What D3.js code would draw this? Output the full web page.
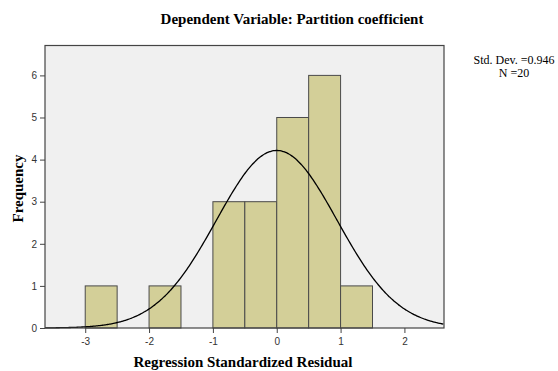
<!DOCTYPE html>
<html><head><meta charset="utf-8">
<script src="https://cdn.jsdelivr.net/npm/d3@7"></script>
<style>body{margin:0;background:#fff}svg{display:block}</style>
</head><body>
<script>
const binStarts = [-3, -2, -1, -0.5, 0, 0.5, 1];
const binCounts = [1, 1, 3, 3, 5, 6, 1];
const binWidth = 0.5;
const xTicks = [-3, -2, -1, 0, 1, 2];
const yTicks = [0, 1, 2, 3, 4, 5, 6];
const stdDev = 0.946;
const meanVal = 0;
const nCount = 20;
const title = "Dependent Variable: Partition coefficient";
const xLabel = "Regression Standardized Residual";
const yLabel = "Frequency";

const W = 558, H = 371;
const L = 45, R = 444, T = 45.5, B = 328;
const svg = d3.select("body").append("svg").attr("width", W).attr("height", H);

const x = d3.scaleLinear().domain([-3.63, 2.62]).range([L, R]);
const y = d3.scaleLinear().domain([0, 6.71]).range([B, T]);

svg.append("rect").attr("x", L).attr("y", T).attr("width", R - L).attr("height", B - T)
  .attr("fill", "#f0f0f0");

svg.selectAll("rect.bar").data(binStarts).enter().append("rect").attr("class", "bar")
  .attr("x", d => x(d)).attr("width", d => x(d + binWidth) - x(d))
  .attr("y", (d, i) => y(binCounts[i])).attr("height", (d, i) => y(0) - y(binCounts[i]))
  .attr("fill", "#d3cf98").attr("stroke", "#4a4a4a").attr("stroke-width", 1);

// fitted normal curve from the stated mean, std dev and N
const curveX = d3.range(x.domain()[0], x.domain()[1] + 0.001, 0.02);
const dens = v => nCount * binWidth / (stdDev * Math.sqrt(2 * Math.PI)) * Math.exp(-0.5 * ((v - meanVal) / stdDev) ** 2);
svg.append("path").datum(curveX)
  .attr("d", d3.line().x(d => x(d)).y(d => y(dens(d))).curve(d3.curveBasis))
  .attr("fill", "none").attr("stroke", "#000").attr("stroke-width", 1.3);

svg.append("rect").attr("x", L).attr("y", T).attr("width", R - L).attr("height", B - T)
  .attr("fill", "none").attr("stroke", "#444").attr("stroke-width", 1.2);

const fmt = d => String(d);
const xAxis = svg.append("g").attr("transform", `translate(0,${B})`)
  .call(d3.axisBottom(x).tickValues(xTicks).tickSize(5).tickSizeOuter(0).tickFormat(fmt));
const yAxis = svg.append("g").attr("transform", `translate(${L},0)`)
  .call(d3.axisLeft(y).tickValues(yTicks).tickSize(5).tickPadding(3).tickSizeOuter(0).tickFormat(fmt));
[xAxis, yAxis].forEach(a => {
  a.select(".domain").remove();
  a.selectAll(".tick line").attr("stroke", "#444");
  a.selectAll("text").attr("fill", "#333").style("font-family", "Liberation Sans, Arial, sans-serif").style("font-size", "10px");
});
xAxis.selectAll("text").attr("dy", "0.9em");

const serif = "Liberation Serif, Times New Roman, serif";
svg.append("text").attr("x", 292).attr("y", 24).attr("text-anchor", "middle")
  .style("font-family", serif).style("font-weight", "bold").style("font-size", "15px")
  .text(title);
svg.append("text").attr("x", 243).attr("y", 367).attr("text-anchor", "middle")
  .style("font-family", serif).style("font-weight", "bold").style("font-size", "15px")
  .text(xLabel);
svg.append("text").attr("transform", "translate(23,188.5) rotate(-90)").attr("text-anchor", "middle")
  .style("font-family", serif).style("font-weight", "bold").style("font-size", "15px")
  .text(yLabel);
svg.append("text").attr("x", 514).attr("y", 64).attr("text-anchor", "middle")
  .style("font-family", serif).style("font-size", "12px")
  .text("Std. Dev. =" + stdDev.toFixed(3));
svg.append("text").attr("x", 514).attr("y", 77).attr("text-anchor", "middle")
  .style("font-family", serif).style("font-size", "12px")
  .text("N =" + nCount);
</script>
</body></html>
